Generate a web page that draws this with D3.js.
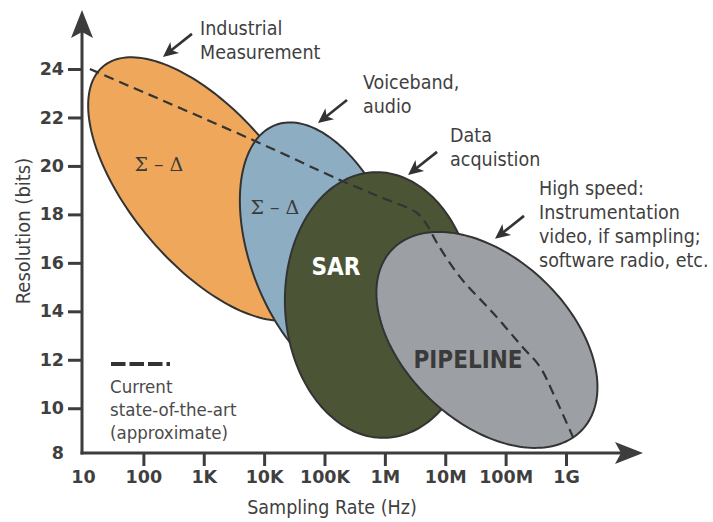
<!DOCTYPE html>
<html>
<head>
<meta charset="utf-8">
<script src="https://cdn.jsdelivr.net/npm/d3@7"></script>
<style>
  html, body { margin: 0; padding: 0; background: #fff; }
  svg { display: block; }
  .cond { font-family: "DejaVu Sans Condensed", "DejaVu Sans", sans-serif; font-stretch: condensed; }
</style>
</head>
<body>
<svg id="chart" width="713" height="522"></svg>
<script>
// ---------------- data ----------------
const xTickValues = [10, 100, 1e3, 1e4, 1e5, 1e6, 1e7, 1e8, 1e9];
const xTickLabels = ["10", "100", "1K", "10K", "100K", "1M", "10M", "100M", "1G"];
const yTickValues = [8, 10, 12, 14, 16, 18, 20, 22, 24];

// ADC architecture regions (ellipses): centre (Hz, bits), semi-axes as (decades, bits)
const regionNames    = ["sigmaDeltaIndustrial", "sigmaDeltaAudio", "SAR", "PIPELINE"];
const regionCenterHz = [1.09e3, 1.02e5, 8.3e5, 4.9e7];
const regionCenterBits = [19.05, 16.33, 14.26, 12.82];
const regionMajor = [[1.704, -5.057], [0.825, -5.354], [0.115, -5.479], [1.574, -3.720]];
const regionMinor = [[-0.952, -1.989], [-1.144, -1.094], [-1.571, -0.205], [-0.935, -2.454]];
const regionColors = ["#EFA85B", "#8DADC3", "#4B5536", "#9C9FA4"];

// region labels (centre of text, Hz / bits)
const regionLabels     = ["\u03A3 \u2013 \u0394", "\u03A3 \u2013 \u0394", "SAR", "PIPELINE"];
const regionLabelHz    = [181, 1.51e4, 1.55e5, 2.38e7];
const regionLabelBits  = [19.79, 18.02, 15.50, 11.66];

// current state-of-the-art (approximate) curve
const sotaHz   = [13, 6.5e3, 1.8e5, 8.3e5, 3.4e6, 5.0e6, 7.3e6, 1.75e7, 6.2e7, 1.9e8, 3.7e8, 6.1e8, 1.3e9];
const sotaBits = [24, 21.07, 19.42, 18.72, 18.06, 17.56, 16.82, 15.42, 13.93, 12.53, 11.71, 10.63, 8.82];

// application annotations
const annotationLines = [
  ["Industrial", "Measurement"],
  ["Voiceband,", "audio"],
  ["Data", "acquistion"],
  ["High speed:", "Instrumentation", "video, if sampling;", "software radio, etc."]
];
const annotationTipHz    = [211, 7.8e4, 2.42e6, 6.67e7];
const annotationTipBits  = [24.50, 21.77, 19.63, 16.99];
const annotationTextHz   = [867, 4.34e5, 1.2e7, 3.57e8];
const annotationTextBits = [25.40, 23.17, 20.99, 18.80];

const legendLines = ["Current", "state-of-the-art", "(approximate)"];

// ---------------- chart ----------------
const svg = d3.select("#chart");
const axisColor = "#3d3d3d";
const textColor = "#3f3f3f";

const x = d3.scaleLog().domain([10, 1e9]).range([83, 566]);
const y = d3.scaleLinear().domain([8, 24]).range([456.7, 69]);
const axisY = 453, axisX = 82;

const px = (hz) => x(hz);
const lx = (dec) => x(Math.pow(10, dec)); // log10 position

// ellipses
const line = d3.line().curve(d3.curveLinearClosed);
regionNames.forEach((name, i) => {
  const c0 = Math.log10(regionCenterHz[i]), c1 = regionCenterBits[i];
  const M = regionMajor[i], m = regionMinor[i];
  const pts = d3.range(0, 360, 2).map(deg => {
    const t = deg * Math.PI / 180;
    const d = c0 + M[0] * Math.cos(t) + m[0] * Math.sin(t);
    const b = c1 + M[1] * Math.cos(t) + m[1] * Math.sin(t);
    return [lx(d), y(b)];
  });
  svg.append("path")
    .attr("class", "region " + name)
    .attr("d", line(pts))
    .attr("fill", regionColors[i])
    .attr("stroke", "#333")
    .attr("stroke-width", 2);
});

// region labels
regionLabels.forEach((t, i) => {
  const isSigma = t.indexOf("\u03A3") >= 0;
  const el = svg.append("text")
    .attr("x", px(regionLabelHz[i]))
    .attr("y", y(regionLabelBits[i]))
    .attr("text-anchor", "middle")
    .text(t);
  if (isSigma) {
    el.attr("font-family", "DejaVu Serif, serif").attr("font-size", 19).attr("fill", "#3a3a3a");
  } else {
    el.attr("class", "cond").attr("font-weight", "bold").attr("font-size", 24)
      .attr("fill", t === "SAR" ? "#ffffff" : "#3a3a3a");
  }
});

// state-of-the-art dashed curve
const sotaLine = d3.line().x(d => px(d[0])).y(d => y(d[1])).curve(d3.curveCatmullRom.alpha(0.5));
svg.append("path")
  .attr("d", sotaLine(sotaHz.map((h, i) => [h, sotaBits[i]])))
  .attr("fill", "none")
  .attr("stroke", "#333")
  .attr("stroke-width", 2.2)
  .attr("stroke-dasharray", "10,6");

// axes
const xAxis = d3.axisBottom(x).tickValues(xTickValues)
  .tickFormat((d, i) => xTickLabels[i]).tickSize(13).tickPadding(5);
const gx = svg.append("g").attr("transform", `translate(0,${axisY})`).call(xAxis);
gx.select(".domain").remove();
gx.selectAll(".tick line").attr("stroke", axisColor).attr("stroke-width", 3)
  .filter(d => d === 10).remove();
gx.selectAll(".tick text").attr("font-family", "DejaVu Sans, sans-serif")
  .attr("font-weight", "bold").attr("font-size", 17.5).attr("fill", textColor);

const yAxis = d3.axisLeft(y).tickValues(yTickValues).tickSize(14).tickPadding(4);
const gy = svg.append("g").attr("transform", `translate(${axisX},0)`).call(yAxis);
gy.select(".domain").remove();
gy.selectAll(".tick line").attr("stroke", axisColor).attr("stroke-width", 3)
  .filter(d => d === 8).remove();
gy.selectAll(".tick").filter(d => d === 8).attr("transform", `translate(0,${axisY})`);
gy.selectAll(".tick text").attr("font-family", "DejaVu Sans, sans-serif")
  .attr("font-weight", "bold").attr("font-size", 17.5).attr("fill", textColor);

// axis lines with arrowheads
svg.append("line").attr("x1", axisX).attr("y1", axisY + 1.5).attr("x2", axisX).attr("y2", 30)
  .attr("stroke", axisColor).attr("stroke-width", 3);
svg.append("line").attr("x1", axisX - 1.5).attr("y1", axisY).attr("x2", 625).attr("y2", axisY)
  .attr("stroke", axisColor).attr("stroke-width", 3);
svg.append("path")
  .attr("d", `M${axisX},10 L${axisX + 11},38 L${axisX},32 L${axisX - 11},38 Z`)
  .attr("fill", axisColor);
svg.append("path")
  .attr("d", `M643,${axisY} L615,${axisY - 11} L621,${axisY} L615,${axisY + 11} Z`)
  .attr("fill", axisColor);

// axis titles
svg.append("text").attr("class", "cond")
  .attr("x", 332).attr("y", 514).attr("text-anchor", "middle")
  .attr("font-size", 19.5).attr("fill", textColor).text("Sampling Rate (Hz)");
svg.append("text").attr("class", "cond")
  .attr("transform", "translate(30,231) rotate(-90)").attr("text-anchor", "middle")
  .attr("font-size", 20).attr("fill", textColor).text("Resolution (bits)");

// annotations with arrows
annotationLines.forEach((lines, i) => {
  const tx = px(annotationTipHz[i]), ty = y(annotationTipBits[i]);
  const sx = tx + 29, sy = ty - 23;
  const L = Math.hypot(tx - sx, ty - sy);
  const ux = (tx - sx) / L, uy = (ty - sy) / L;
  const nx = -uy, ny = ux;
  svg.append("line").attr("x1", sx).attr("y1", sy)
    .attr("x2", tx - ux * 9).attr("y2", ty - uy * 9)
    .attr("stroke", "#333").attr("stroke-width", 2.6);
  svg.append("path")
    .attr("d", `M${tx},${ty} L${tx - ux * 15 + nx * 7},${ty - uy * 15 + ny * 7} L${tx - ux * 11},${ty - uy * 11} L${tx - ux * 15 - nx * 7},${ty - uy * 15 - ny * 7} Z`)
    .attr("fill", "#333");
  const t = svg.append("text").attr("class", "cond")
    .attr("x", px(annotationTextHz[i])).attr("y", y(annotationTextBits[i]))
    .attr("font-size", 19.5).attr("fill", textColor);
  lines.forEach((s, j) => {
    t.append("tspan").attr("x", px(annotationTextHz[i])).attr("dy", j === 0 ? 0 : 24).text(s);
  });
});

// legend
svg.append("line").attr("x1", 111).attr("x2", 170).attr("y1", 364).attr("y2", 364)
  .attr("stroke", "#333").attr("stroke-width", 4).attr("stroke-dasharray", "14.5,4");
const lt = svg.append("text").attr("class", "cond").attr("x", 110).attr("y", 393)
  .attr("font-size", 18.5).attr("fill", "#4a4a4a");
legendLines.forEach((s, j) => {
  lt.append("tspan").attr("x", 110).attr("dy", j === 0 ? 0 : 23).text(s);
});
</script>
</body>
</html>
